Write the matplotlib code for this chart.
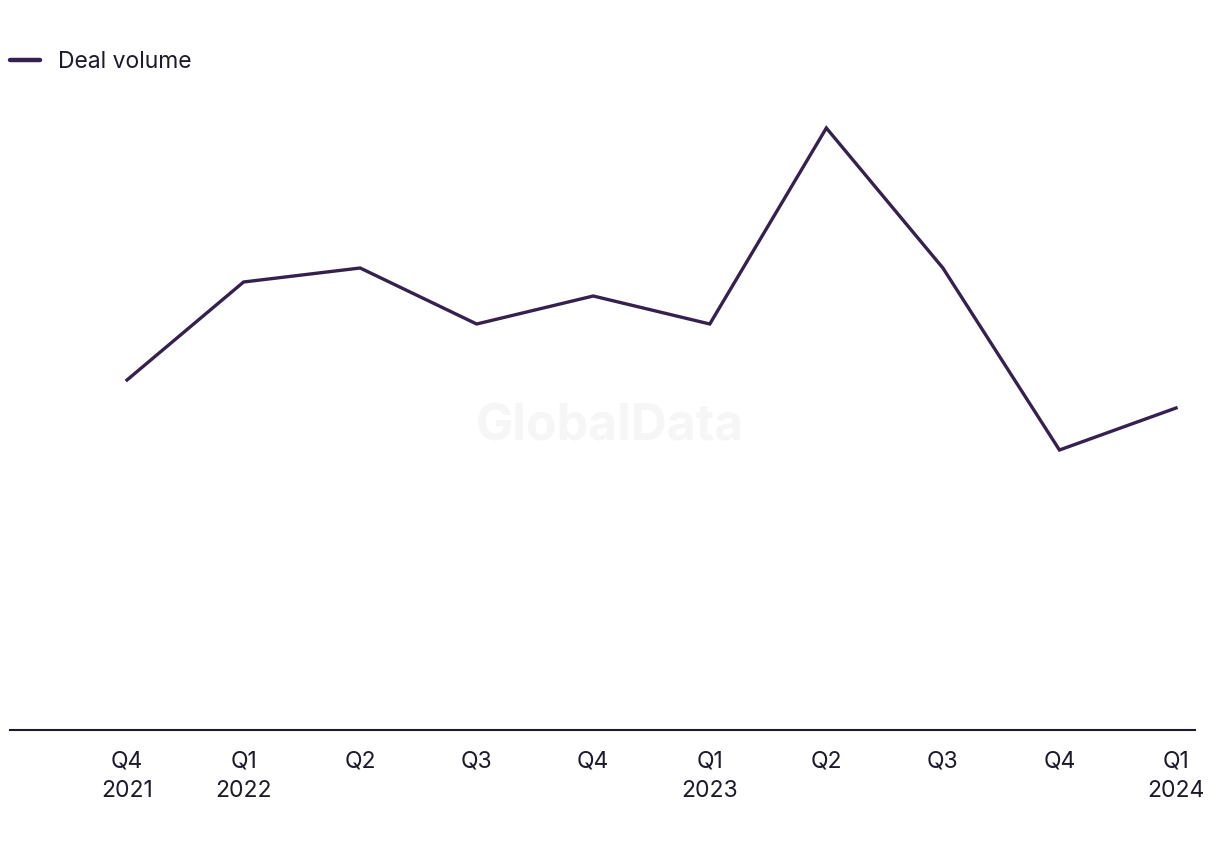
import matplotlib.pyplot as plt

quarters = ['Q4\n2021', 'Q1\n2022', 'Q2', 'Q3', 'Q4', 'Q1\n2023', 'Q2', 'Q3', 'Q4', 'Q1\n2024']
deal_volume = [25, 32, 33, 29, 31, 29, 43, 33, 20, 23]

plt.rcParams['font.family'] = ['Inter', 'DejaVu Sans']
line_color = '#35204f'
text_color = '#1c1a2b'

fig = plt.figure(figsize=(12.2, 8.5), dpi=100)
ax = fig.add_axes([10 / 1220, 120 / 850, 1185 / 1220, 700 / 850])

x = list(range(len(quarters)))
ax.plot(x, deal_volume, color=line_color, lw=2.4, solid_joinstyle='miter', label='Deal volume')

ax.set_xlim(-1.004, 9.163)
ax.set_ylim(0, 50)
ax.set_xticks(x)
ax.set_xticklabels(quarters, fontsize=16.5, color=text_color, linespacing=1.45)
ax.tick_params(axis='x', length=0, pad=15)
ax.set_yticks([])
for side in ['top', 'right', 'left']:
    ax.spines[side].set_visible(False)
ax.spines['bottom'].set_color(text_color)
ax.spines['bottom'].set_linewidth(1.5)

# watermark
ax.text(0.5, 1 - 427 / 850, 'GlobalData', transform=fig.transFigure, ha='center', va='center',
        fontsize=36, fontweight='bold', color='#f6f6f6', zorder=0)

leg = fig.legend(loc='center left', bbox_to_anchor=(0.0, 1 - 62 / 850), frameon=False,
                 fontsize=16.5, handlelength=1.3, handletextpad=0.8, borderaxespad=0,
                 borderpad=0.45)
for t in leg.get_texts():
    t.set_color(text_color)
for h in leg.get_lines():
    h.set_linewidth(3.2)
    h.set_solid_capstyle('round')

fig.savefig('out.png', dpi=100, facecolor='white')
